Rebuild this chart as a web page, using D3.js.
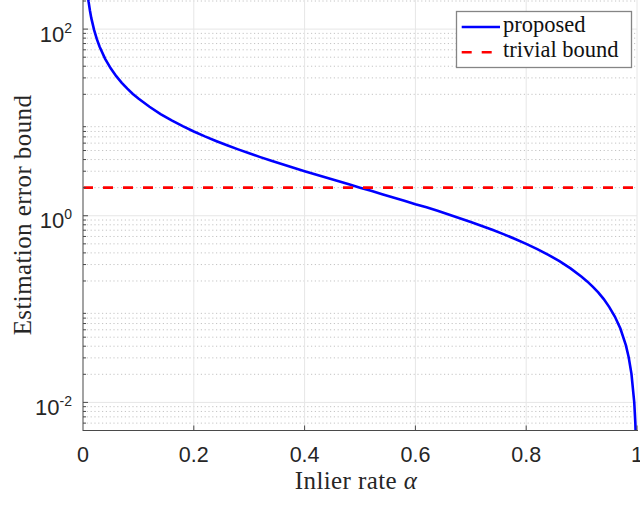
<!DOCTYPE html>
<html><head><meta charset="utf-8">
<script src="https://cdn.jsdelivr.net/npm/d3@7"></script>
<style>body{margin:0;background:#fff}svg{display:block}</style>
</head><body>
<svg id="c" width="640" height="517"></svg>
<script>
// Data
const alphaVals = [0.005,0.0075,0.01,0.0125,0.015,0.02,0.025,0.03,0.04,0.05,0.06,0.07,0.08,0.09,0.1,
  0.12,0.14,0.16,0.18,0.2,0.22,0.24,0.26,0.28,0.3,0.32,0.34,0.36,0.38,0.4,0.42,0.44,0.46,0.48,0.5,
  0.52,0.54,0.56,0.58,0.6,0.62,0.64,0.66,0.68,0.7,0.72,0.74,0.76,0.78,0.8,0.82,0.84,0.86,0.88,0.9,
  0.91,0.92,0.93,0.94,0.95,0.96,0.97,0.98,0.985,0.99,0.995,0.997,0.998];
const proposedVals = [398,265,198,158,131,98,78,64.7,48,38,31.3,26.6,23,20.2,18,
  14.7,12.3,10.5,9.11,8,7.09,6.33,5.69,5.14,4.67,4.25,3.88,3.56,3.26,3.0,2.76,2.55,2.35,2.17,2.0,
  1.85,1.70,1.57,1.45,1.33,1.23,1.13,1.03,0.941,0.857,0.778,0.703,0.632,0.564,0.5,0.439,0.381,0.326,0.273,0.222,
  0.198,0.174,0.151,0.128,0.105,0.0833,0.0619,0.0408,0.0305,0.0202,0.0101,0.006,0.004];
const trivialBound = 2;
const xTicks = [0,0.2,0.4,0.6,0.8,1];
const xTickLabels = ["0","0.2","0.4","0.6","0.8","1"];
const yTicks = [0.01,1,100];
const yTickExp = ["-2","0","2"];
const seriesNames = ["proposed","trivial bound"];
const xLabel = "Inlier rate ";
const yLabel = "Estimation error bound";

const svg = d3.select("#c");
const L = 83, R = 637, T = 1, B = 430.5;
const x = d3.scaleLinear().domain([0,1]).range([L,R]);
const y = d3.scaleLog().domain([0.005,200]).range([B,T]);

// minor grid values
const minor = [];
for (let e=-3;e<=2;e++) for (let k=2;k<=9;k++){const v=k*Math.pow(10,e); if(v>=0.005&&v<=200) minor.push(v);}

const g = svg.append("g");
g.selectAll(".mn").data(minor).enter().append("line")
  .attr("x1",L).attr("x2",R).attr("y1",d=>y(d)).attr("y2",d=>y(d))
  .attr("stroke","#c4c4c4").attr("stroke-width",1).attr("stroke-dasharray","1.2 2.6");
g.selectAll(".mjy").data(yTicks).enter().append("line")
  .attr("x1",L).attr("x2",R).attr("y1",d=>y(d)).attr("y2",d=>y(d))
  .attr("stroke","#e6e6e6").attr("stroke-width",1);
g.selectAll(".mjx").data(xTicks.slice(1)).enter().append("line")
  .attr("x1",d=>x(d)).attr("x2",d=>x(d)).attr("y1",T-1).attr("y2",B)
  .attr("stroke","#e6e6e6").attr("stroke-width",1);

// clip
svg.append("clipPath").attr("id","pc").append("rect").attr("x",L).attr("y",0).attr("width",R-L+2).attr("height",B);

const pts = alphaVals.map((a,i)=>[a,proposedVals[i]]);
svg.append("path").datum(pts).attr("clip-path","url(#pc)")
  .attr("d",d3.line().x(d=>x(d[0])).y(d=>y(d[1])))
  .attr("fill","none").attr("stroke","#0000ff").attr("stroke-width",2.6);
svg.append("line").attr("clip-path","url(#pc)")
  .attr("x1",x(0)).attr("x2",x(1)).attr("y1",y(trivialBound)).attr("y2",y(trivialBound))
  .attr("stroke","#ff0000").attr("stroke-width",2.6).attr("stroke-dasharray","10 10");

// axes
const ax = svg.append("g");
ax.append("line").attr("x1",L).attr("x2",L).attr("y1",0).attr("y2",B+0.5).attr("stroke","#8c8c8c").attr("stroke-width",1.6);
ax.append("line").attr("x1",L).attr("x2",R+1).attr("y1",B).attr("y2",B).attr("stroke","#4a4a4a").attr("stroke-width",1.2);
ax.selectAll(".xt").data(xTicks.slice(1)).enter().append("line")
  .attr("x1",d=>x(d)).attr("x2",d=>x(d)).attr("y1",B).attr("y2",B-5).attr("stroke","#4a4a4a");
ax.selectAll(".ymt").data(minor).enter().append("line")
  .attr("x1",L).attr("x2",L+3).attr("y1",d=>y(d)).attr("y2",d=>y(d)).attr("stroke","#4a4a4a");
ax.selectAll(".yMt").data(yTicks).enter().append("line")
  .attr("x1",L).attr("x2",L+5).attr("y1",d=>y(d)).attr("y2",d=>y(d)).attr("stroke","#4a4a4a");

const sans = "'Liberation Sans', Arial, sans-serif";
const serif = "'Liberation Serif', 'Times New Roman', serif";
ax.selectAll(".xl").data(xTicks).enter().append("text")
  .attr("x",d=>x(d)).attr("y",461.5).attr("text-anchor","middle")
  .attr("font-family",sans).attr("font-size",21.5).attr("fill","#262626")
  .text((d,i)=>xTickLabels[i]);
const yl = ax.selectAll(".yl").data(yTicks).enter().append("text")
  .attr("x",72).attr("y",d=>y(d)+12.7).attr("text-anchor","end")
  .attr("font-family",sans).attr("font-size",22).attr("fill","#262626");
yl.append("tspan").text("10");
yl.append("tspan").attr("font-size",14).attr("dy",-9).text((d,i)=>yTickExp[i]);

// axis labels
const xt = svg.append("text").attr("x",356).attr("y",489.3).attr("text-anchor","middle")
  .attr("font-family",serif).attr("font-size",25).attr("letter-spacing",0.4).attr("fill","#262626");
xt.append("tspan").text(xLabel);
xt.append("tspan").attr("font-style","italic").text("α");
svg.append("text").attr("transform","translate(30.5,215) rotate(-90)").attr("text-anchor","middle")
  .attr("font-family",serif).attr("font-size",25).attr("letter-spacing",0.4).attr("fill","#262626").text(yLabel);

// legend
const lg = svg.append("g");
lg.append("rect").attr("x",456.5).attr("y",11.5).attr("width",175).attr("height",56)
  .attr("fill","#fff").attr("stroke","#858585").attr("stroke-width",1.3);
lg.append("line").attr("x1",461.7).attr("x2",500).attr("y1",27).attr("y2",27).attr("stroke","#0000ff").attr("stroke-width",2.6);
lg.append("line").attr("x1",461.7).attr("x2",500).attr("y1",52.3).attr("y2",52.3).attr("stroke","#ff0000").attr("stroke-width",2.6).attr("stroke-dasharray","10 10");
lg.selectAll(".lt").data(seriesNames).enter().append("text")
  .attr("x",503).attr("y",(d,i)=>i===0?31.7:57.3)
  .attr("font-family",serif).attr("font-size",22.5).attr("fill","#111").text(d=>d);
</script>
</body></html>
